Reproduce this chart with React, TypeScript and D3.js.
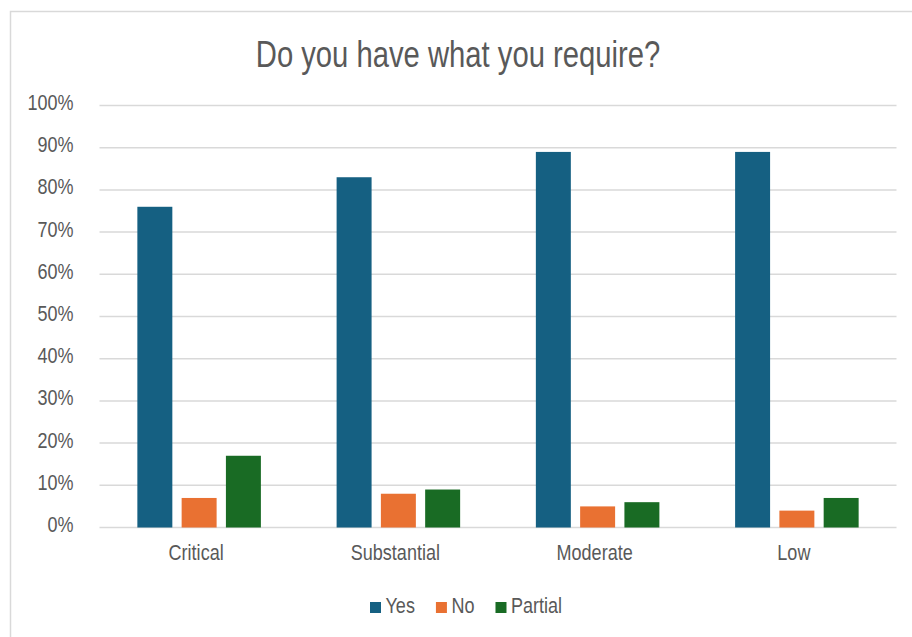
import React, { useEffect, useRef } from "react";
import * as d3 from "d3";

// Survey results by risk level
const categories = ["Critical", "Substantial", "Moderate", "Low"];
const seriesNames = ["Yes", "No", "Partial"];
const yesValues = [76, 83, 89, 89];
const noValues = [7, 8, 5, 4];
const partialValues = [17, 9, 6, 7];
const yTicks = [0, 10, 20, 30, 40, 50, 60, 70, 80, 90, 100];
const seriesColors = ["#156082", "#E97132", "#196B24"];
const titleText = "Do you have what you require?";

const W = 912;
const H = 637;
const FONT = "'Liberation Sans', Arial, sans-serif";
const TEXT_COLOR = "#595959";
const NARROW = 0.82;

export default function App() {
  const ref = useRef<SVGSVGElement | null>(null);

  useEffect(() => {
    const svg = d3.select(ref.current);
    svg.selectAll("*").remove();

    const plot = { left: 99.5, right: 896.5, top: 105.5, bottom: 527.5 };

    // chart frame
    svg
      .append("rect")
      .attr("x", 10.5)
      .attr("y", 11.5)
      .attr("width", W + 20)
      .attr("height", H + 20)
      .attr("fill", "#fff")
      .attr("stroke", "#d9d9d9")
      .attr("stroke-width", 1.5);

    const narrowText = (
      parent: d3.Selection<any, any, any, any>,
      x: number,
      y: number,
      text: string,
      size: number,
      anchor: string,
      sx = NARROW
    ) => {
      const g = parent.append("g").attr("transform", `translate(${x},${y}) scale(${sx},1)`);
      return g
        .append("text")
        .attr("text-anchor", anchor)
        .attr("font-family", FONT)
        .attr("font-size", size)
        .attr("fill", TEXT_COLOR)
        .text(text);
    };

    // title
    narrowText(svg, 458, 66.5, titleText, 37, "middle", 0.79);

    const y = d3.scaleLinear().domain([0, 100]).range([plot.bottom, plot.top]);
    const x0 = d3.scaleBand<string>().domain(categories).range([plot.left, plot.right]).padding(0);
    const x1 = d3
      .scaleBand<string>()
      .domain(seriesNames)
      .range([0, x0.bandwidth()])
      .paddingInner(0.21)
      .paddingOuter(0.855);

    // gridlines
    const grid = svg.append("g");
    yTicks.forEach((t) => {
      grid
        .append("line")
        .attr("x1", plot.left)
        .attr("x2", plot.right)
        .attr("y1", y(t))
        .attr("y2", y(t))
        .attr("stroke", "#d9d9d9")
        .attr("stroke-width", 1.5);
      narrowText(svg, 73.5, y(t) + 4.5, `${t}%`, 22.5, "end", 0.8);
    });

    // bars
    const valuesBySeries = [yesValues, noValues, partialValues];
    const bars = svg.append("g");
    categories.forEach((cat, ci) => {
      seriesNames.forEach((s, si) => {
        const v = valuesBySeries[si][ci];
        bars
          .append("rect")
          .attr("x", (x0(cat) ?? 0) + (x1(s) ?? 0))
          .attr("y", y(v))
          .attr("width", x1.bandwidth())
          .attr("height", y(0) - y(v))
          .attr("fill", seriesColors[si]);
      });
    });

    // category labels
    categories.forEach((cat) => {
      narrowText(svg, (x0(cat) ?? 0) + x0.bandwidth() / 2 - 3, 560, cat, 22, "middle");
    });

    // legend
    const legend = svg.append("g");
    const sq = 11;
    const textGap = 4.5;
    const itemGap = 21;
    let lx = 370;
    seriesNames.forEach((s, si) => {
      legend
        .append("rect")
        .attr("x", lx)
        .attr("y", 602)
        .attr("width", sq)
        .attr("height", sq)
        .attr("fill", seriesColors[si]);
      const t = narrowText(legend, lx + sq + textGap, 612.7, s, 22, "start");
      const w = (t.node() as SVGTextElement).getComputedTextLength() * NARROW;
      lx += sq + textGap + w + itemGap;
    });
  }, []);

  return (
    <svg
      ref={ref}
      width={W}
      height={H}
      style={{ position: "absolute", left: 0, top: 0, background: "#fff" }}
    />
  );
}
